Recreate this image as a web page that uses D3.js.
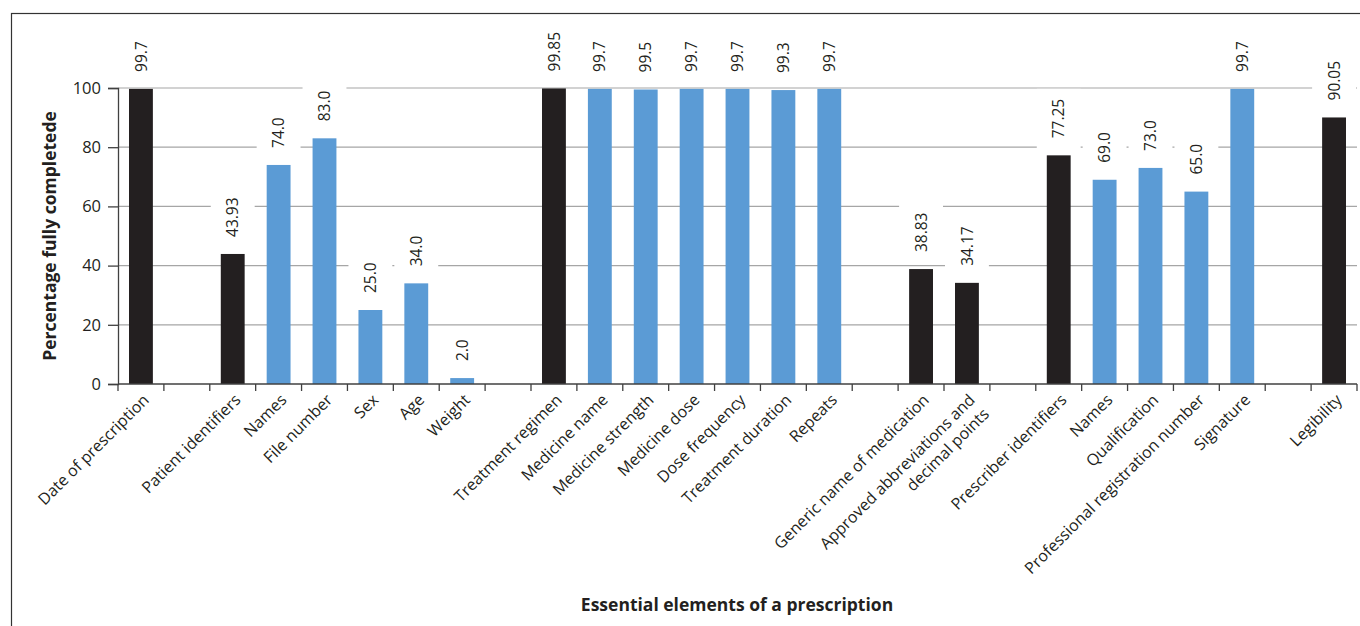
<head>
    <script src="https://d3js.org/d3.v7.min.js"></script>
    <style>
        body { margin: 0; background: #fff; }
        text { font-family: "Open Sans", sans-serif; fill: #231f20; }
    </style>
</head>
<body>
    <script>
        var width = 1360;
        var height = 626;

        // "" marks an empty slot between groups
        var categories = ["Date of prescription", "", "Patient identifiers", "Names", "File number", "Sex", "Age", "Weight", "",
            "Treatment regimen", "Medicine name", "Medicine strength", "Medicine dose", "Dose frequency", "Treatment duration", "Repeats", "",
            "Generic name of medication", "Approved abbreviations and|decimal points", "",
            "Prescriber identifiers", "Names", "Qualification", "Professional registration number", "Signature", "", "Legibility"];
        var values = [99.7, null, 43.93, 74.0, 83.0, 25.0, 34.0, 2.0, null,
            99.85, 99.7, 99.5, 99.7, 99.7, 99.3, 99.7, null,
            38.83, 34.17, null,
            77.25, 69.0, 73.0, 65.0, 99.7, null, 90.05];
        var valueLabels = ["99.7", "", "43.93", "74.0", "83.0", "25.0", "34.0", "2.0", "",
            "99.85", "99.7", "99.5", "99.7", "99.7", "99.3", "99.7", "",
            "38.83", "34.17", "",
            "77.25", "69.0", "73.0", "65.0", "99.7", "", "90.05"];
        // main element (h) or sub-element (s)
        var kinds = ["h", "", "h", "s", "s", "s", "s", "s", "",
            "h", "s", "s", "s", "s", "s", "s", "",
            "h", "h", "",
            "h", "s", "s", "s", "s", "", "h"];
        var yTicks = [0, 20, 40, 60, 80, 100];

        var data = categories.map(function (c, i) {
            return { i: i, name: c, value: values[i], label: valueLabels[i], kind: kinds[i] };
        });

        var margin = { left: 118, right: 3, top: 88, bottom: 242 };

        var svg = d3.select("body").append("svg")
            .attr("width", width)
            .attr("height", height);

        // frame
        svg.append("rect")
            .attr("x", 11.5).attr("y", 13.5)
            .attr("width", 1400).attr("height", 700)
            .style("fill", "none").style("stroke", "#333").style("stroke-width", 1.2);

        var x = d3.scaleBand()
            .domain(d3.range(categories.length))
            .range([margin.left, width - margin.right])
            .paddingInner(0.48)
            .paddingOuter(0.24);

        var y = d3.scaleLinear()
            .domain([0, 100])
            .range([height - margin.bottom, margin.top]);

        var step = x.step();
        var slotStart = function (i) { return x(i) - x.paddingInner() * step / 2; };

        // gridlines
        svg.append("g").selectAll("line")
            .data(yTicks.slice(1))
            .enter().append("line")
            .attr("x1", margin.left).attr("x2", width - margin.right)
            .attr("y1", function (d) { return y(d); })
            .attr("y2", function (d) { return y(d); })
            .style("stroke", "#a6a6a6").style("stroke-width", 1.2);

        var colors = { h: "#231f20", s: "#5b9bd5" };
        var bars = data.filter(function (d) { return d.value !== null; });

        svg.append("g").selectAll("rect")
            .data(bars)
            .enter().append("rect")
            .attr("x", function (d) { return x(d.i); })
            .attr("width", x.bandwidth())
            .attr("y", function (d) { return y(d.value); })
            .attr("height", function (d) { return y(0) - y(d.value); })
            .style("fill", function (d) { return colors[d.kind]; });

        // value labels with white boxes
        var lab = svg.append("g").selectAll("g")
            .data(bars)
            .enter().append("g")
            .attr("transform", function (d) {
                return "translate(" + (x(d.i) + x.bandwidth() / 2) + "," + (y(d.value) - 17) + ") rotate(-90)";
            });
        var labBox = lab.append("rect")
            .attr("x", -10)
            .attr("y", -step / 2 + 1)
            .attr("height", step - 2)
            .style("fill", "#fff");
        lab.append("text")
            .attr("dy", "0.36em")
            .style("font-size", "15.5px")
            .text(function (d) { return d.label; });
        lab.each(function () {
            var g = d3.select(this);
            var len = g.select("text").node().getComputedTextLength();
            g.select("rect").attr("width", len + 20);
        });

        // y axis
        var yAxis = svg.append("g")
            .attr("transform", "translate(" + margin.left + ",0)")
            .call(d3.axisLeft(y).tickValues(yTicks).tickSize(10).tickPadding(7));
        yAxis.selectAll("text").style("font-size", "16.5px").style("font-family", "'Open Sans', sans-serif").style("fill", "#231f20");
        yAxis.selectAll("line, path").style("stroke", "#404040").style("stroke-width", 1.3);

        // x axis: line + boundary ticks
        var xg = svg.append("g");
        xg.append("line")
            .attr("x1", margin.left).attr("x2", width - margin.right)
            .attr("y1", y(0)).attr("y2", y(0))
            .style("stroke", "#404040").style("stroke-width", 1.3);
        xg.selectAll("line.tick")
            .data(d3.range(categories.length + 1))
            .enter().append("line")
            .attr("class", "tick")
            .attr("x1", function (i) { return i < categories.length ? slotStart(i) : width - margin.right; })
            .attr("x2", function (i) { return i < categories.length ? slotStart(i) : width - margin.right; })
            .attr("y1", y(0)).attr("y2", y(0) + 7)
            .style("stroke", "#404040").style("stroke-width", 1.3);

        var xl = xg.selectAll("text.cat")
            .data(data.filter(function (d) { return d.name !== ""; }))
            .enter().append("text")
            .attr("class", "cat")
            .attr("text-anchor", "end")
            .style("font-size", "16px")
            .attr("transform", function (d) {
                return "translate(" + (x(d.i) + x.bandwidth() / 2 + 5) + "," + (y(0) + 13) + ") rotate(-45)";
            });
        xl.selectAll("tspan")
            .data(function (d) { return d.name.split("|"); })
            .enter().append("tspan")
            .attr("x", 0)
            .attr("dy", function (d, j) { return j === 0 ? "0.35em" : "1.25em"; })
            .text(function (d) { return d; });

        // axis titles
        svg.append("text")
            .attr("transform", "translate(50," + ((y(0) + y(100)) / 2) + ") rotate(-90)")
            .attr("text-anchor", "middle")
            .attr("dy", "0.35em")
            .style("font-size", "17.5px").style("font-weight", "bold")
            .text("Percentage fully completede");

        svg.append("text")
            .attr("x", 737).attr("y", 605)
            .attr("text-anchor", "middle")
            .attr("dy", "0.35em")
            .style("font-size", "17.5px").style("font-weight", "bold")
            .text("Essential elements of a prescription");
    </script>
</body>
